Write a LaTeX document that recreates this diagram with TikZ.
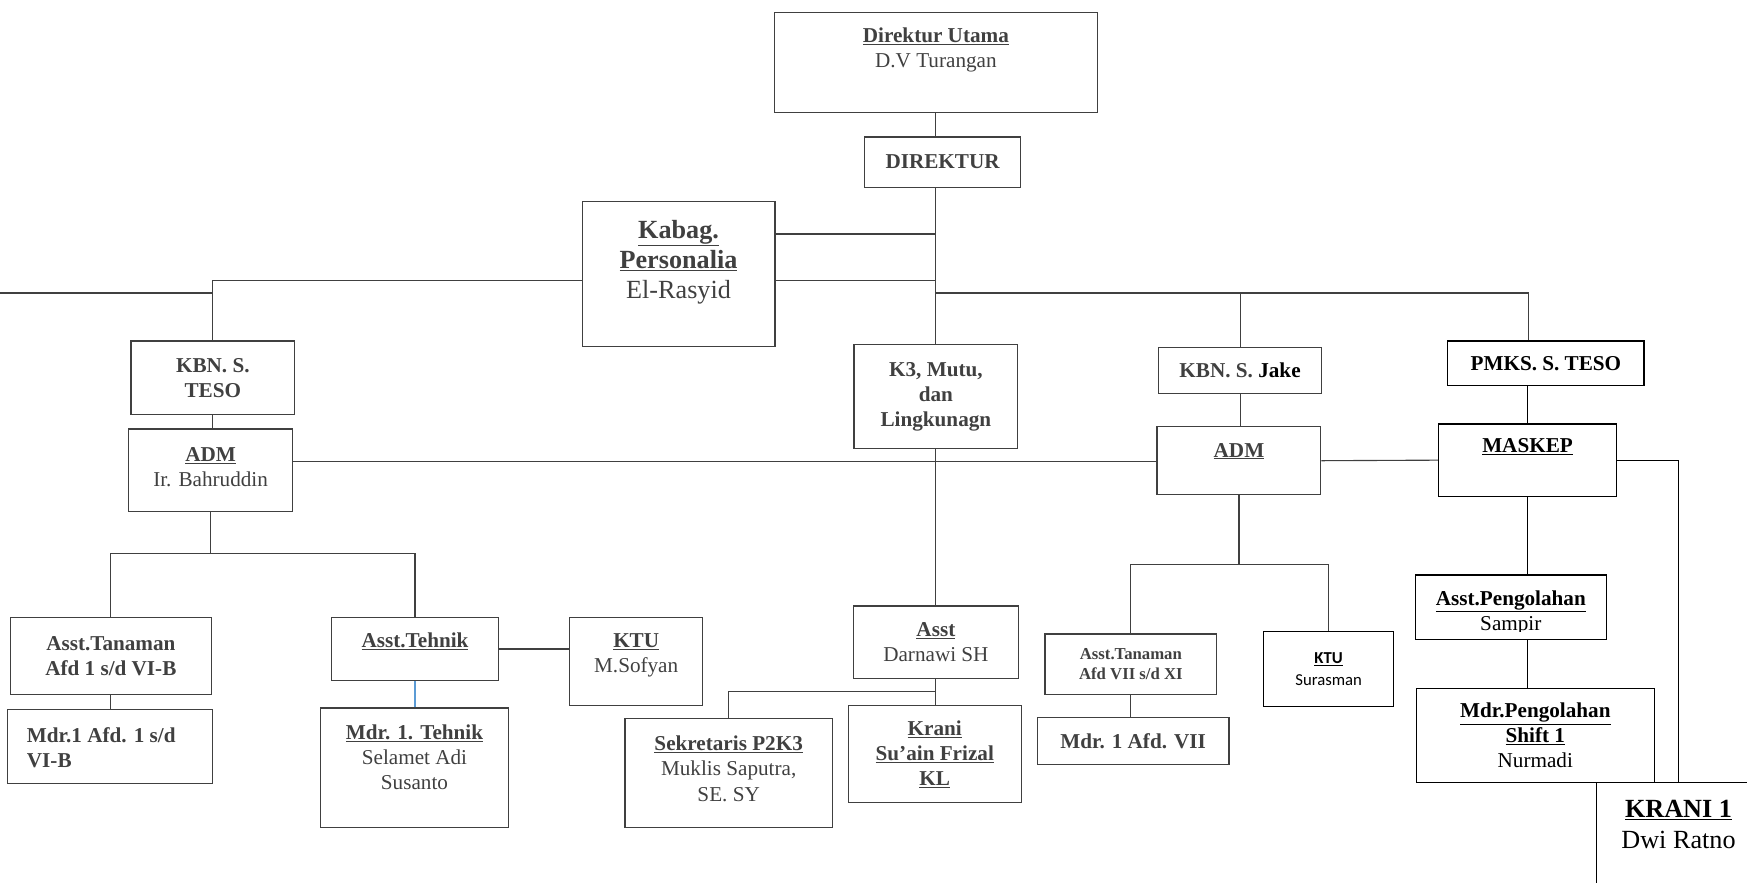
\documentclass[tikz,border=0pt]{standalone}
\usepackage{fontspec}
\setmainfont{Liberation Serif}
\newfontfamily\calibri{Carlito}
\usepackage{xcolor}
\definecolor{inkgray}{RGB}{64,64,64}
\definecolor{tblue}{RGB}{91,155,213}
\newcommand\fnorm{\fontsize{19}{22.5}\selectfont}
\newcommand\fbig{\fontsize{23.5}{27}\selectfont}
\newcommand\fsmall{\fontsize{15}{18.5}\selectfont}
\newcommand\fcal{\calibri\fontsize{15}{19}\selectfont}

\begin{document}
\begin{tikzpicture}[x=1pt,y=-1pt,
  box/.style={draw=inkgray, line width=1.1pt, inner sep=0pt, text=inkgray, align=center, font=\fnorm},
  bbox/.style={box, draw=black, text=black},
  txt/.style={inner sep=0pt, text=inkgray, align=center, font=\fnorm},
  ln/.style={draw=inkgray, line width=1pt},
  lnb/.style={ln, draw=black},
  lnblue/.style={ln, draw=tblue}]
\useasboundingbox (0,0) rectangle (1568,792);

%top
\node[box, minimum width=290, minimum height=90] (du) at (840,56) {};
\node[txt] (du-t) at (840,44.5) {\textbf{\underline{Direktur Utama}}\\D.V Turangan};
\node[box, minimum width=140, minimum height=45, font=\fnorm\bfseries] (dir) at (846,145.5) {DIREKTUR};
\node[box, minimum width=173, minimum height=130] (kab) at (609,246) {};
\node[txt, font=\fbig] (kab-t) at (609,235) {\textbf{\underline{Kabag.}}\\\textbf{\underline{Personalia}}\\El-Rasyid};

%left
\node[box, minimum width=147, minimum height=66, font=\fnorm\bfseries] (kbn1) at (191,339) {KBN. S.\\TESO};
\node[box, minimum width=147, minimum height=74] (adm1) at (189,422) {};
\node[txt] (adm1-t) at (189,419) {\textbf{\underline{ADM}}\\Ir. Bahruddin};
\node[box, minimum width=180, minimum height=69, font=\fnorm\bfseries] (atan1) at (99.5,589) {Asst.Tanaman\\Afd 1 s/d VI-B};
\node[box, minimum width=184, minimum height=66] (mdr1) at (99,670) {};
\node[txt, anchor=west, align=left, font=\fnorm\bfseries] (mdr1-t) at (24,671) {Mdr.1 Afd. 1 s/d\\VI-B};
\node[box, minimum width=150, minimum height=56] (atek) at (372.5,582.5) {};
\node[txt] (atek-t) at (372.5,575.5) {\textbf{\underline{Asst.Tehnik}}};
\node[box, minimum width=119.5, minimum height=79] (ktu1) at (571,593.5) {};
\node[txt] (ktu1-t) at (571,588) {\textbf{\underline{KTU}}\\M.Sofyan};
\node[box, minimum width=168.5, minimum height=107] (mtek) at (372,689) {};
\node[txt] (mtek-t) at (372,680) {\textbf{\underline{Mdr. 1. Tehnik}}\\Selamet Adi\\Susanto};

%centre
\node[box, minimum width=147, minimum height=93, font=\fnorm\bfseries] (k3) at (840,356) {K3, Mutu,\\dan\\Lingkunagn};
\node[box, minimum width=148, minimum height=65] (asst) at (840,576.5) {\textbf{\underline{Asst}}\\Darnawi SH};
\node[box, minimum width=186, minimum height=98] (sek) at (654,694) {};
\node[txt] (sek-t) at (654,690) {\textbf{\underline{Sekretaris P2K3}}\\Muklis Saputra,\\SE. SY};
\node[box, minimum width=155, minimum height=87, font=\fnorm\bfseries] (krn) at (839,677) {\underline{Krani}\\\underline{Su’ain Frizal}\\\underline{KL}};

%right
\node[box, minimum width=146.5, minimum height=41, font=\fnorm\bfseries] (kbn2) at (1113,332.5) {KBN. S. {\color{black}Jake}};
\node[box, minimum width=147, minimum height=61] (adm2) at (1112,413.5) {};
\node[txt, font=\fnorm\bfseries] (adm2-t) at (1112,405) {\underline{ADM}};
\node[box, minimum width=154, minimum height=54, font=\fsmall\bfseries] (atan2) at (1015,596) {Asst.Tanaman\\Afd VII s/d XI};
\node[box, minimum width=172, minimum height=42, font=\fnorm\bfseries] (mafd2) at (1017,665) {Mdr. 1 Afd. VII};
\node[bbox, minimum width=117, minimum height=67, font=\fcal] (ktu2) at (1192.5,600.5) {\textbf{\underline{KTU}}\\Surasman};
\node[bbox, minimum width=176, minimum height=40, font=\fnorm\bfseries] (pmks) at (1387.5,326) {PMKS. S. TESO};
\node[bbox, minimum width=160, minimum height=65] (maskep) at (1371,413) {};
\node[txt, text=black, font=\fnorm\bfseries] (maskep-t) at (1371,401) {\underline{MASKEP}};
\node[bbox, minimum width=171.5, minimum height=58] (apeng) at (1356,545) {};
\begin{scope}
\clip (apeng.north west) rectangle (1442,566.5);
\node[txt, text=black] (apeng-t) at (1356,550) {\textbf{\underline{Asst.Pengolahan}}\\Sampir};
\end{scope}
\node[bbox, minimum width=214, minimum height=84] (mpeng) at (1378,660) {\textbf{\underline{Mdr.Pengolahan}}\\\textbf{\underline{Shift 1}}\\Nurmadi};
\node[bbox, minimum width=147, minimum height=104] (krani1) at (1506.5,754) {};
\node[txt, text=black, font=\fbig] (krani1-t) at (1506.5,740) {\textbf{\underline{KRANI 1}}\\Dwi Ratno};

%connectors
\coordinate (jk1) at (840,210);
\coordinate (jk2) at (840,252);
\coordinate (jr) at (840,263);
\coordinate (jl) at (191,252);
\coordinate (lstub) at (0,263);
\coordinate (jadm) at (840,414);
\coordinate (jp) at (1372,263);

\draw[ln] (du.south) -- (du.south |- dir.north);
\draw[ln] (du.south |- dir.south) -- (k3.north);
\draw[ln] (kab.east |- jk1) -- (jk1);
\draw[ln] (kab.east |- jk2) -- (jk2);
\draw[ln] (kab.west |- jk2) -- (jl) -- (kbn1.north);
\draw[ln] (lstub) -- (lstub -| jl);
\draw[ln] (jr) -- (jp) -- (jp |- pmks.north);
\draw[ln] (kbn2.north |- jr) -- (kbn2.north);

\draw[ln] (kbn1.south) -- (kbn1.south |- adm1.north);
\draw[ln] (adm1.east |- jadm) -- (adm2.west |- jadm);
\draw[ln] (adm1.south) -- ++(0,37) -| (atan1.north);
\draw[ln] (adm1.south) ++(0,37) -| (atek.north);
\draw[ln] (atan1.south) -- (atan1.south |- mdr1.north);
\draw[ln] (atek.east) -- (atek.east -| ktu1.west);
\draw[lnblue] (atek.south) -- (atek.south |- mtek.north);

\draw[ln] (k3.south) -- (asst.north);
\draw[ln] (asst.south) -- (asst.south |- krn.north);
\draw[ln] (asst.south) ++(0,11) -| (sek.north);

\draw[ln] (kbn2.south) -- (kbn2.south |- adm2.north);
\draw[ln] (adm2.east) -- (maskep.west);
\draw[ln] (adm2.south) -- ++(0,62.5) -| (atan2.north);
\draw[ln] (adm2.south) ++(0,62.5) -| (ktu2.north);
\draw[ln] (atan2.south) -- (atan2.south |- mafd2.north);
\draw[lnb] (maskep.north) -- (maskep.north |- pmks.south);
\draw[lnb] (maskep.east) -| (krani1.north);
\draw[lnb] (maskep.south) -- (maskep.south |- apeng.north);
\draw[lnb] (maskep.south |- apeng.south) -- (maskep.south |- mpeng.north);

\end{tikzpicture}
\end{document}
